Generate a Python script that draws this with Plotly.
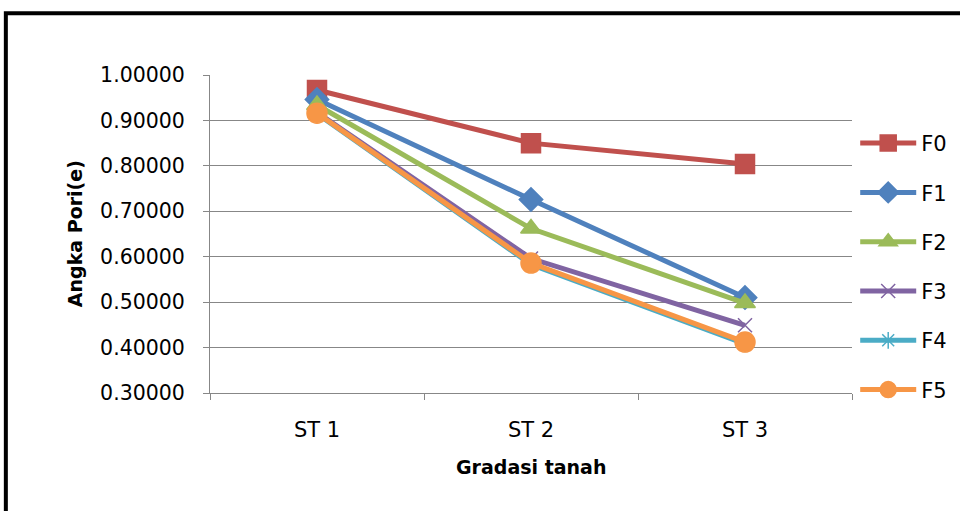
import plotly.graph_objects as go

categories = ["ST 1", "ST 2", "ST 3"]
series_names = ["F0", "F1", "F2", "F3", "F4", "F5"]
F0 = [0.967, 0.850, 0.804]
F1 = [0.946, 0.726, 0.510]
F2 = [0.934, 0.662, 0.498]
F3 = [0.918, 0.596, 0.449]
F4 = [0.915, 0.583, 0.408]
F5 = [0.916, 0.586, 0.412]
y_ticks = [0.3, 0.4, 0.5, 0.6, 0.7, 0.8, 0.9, 1.0]

values = [F0, F1, F2, F3, F4, F5]
colors = ["#C0504D", "#4F81BD", "#9BBB59", "#8064A2", "#4BACC6", "#F79646"]
symbols = ["square", "diamond", "triangle-up", "x-thin-open", "asterisk-open", "circle"]
sizes = [19, 18, 18, 14, 14, 20]

fig = go.Figure()
for i, (name, vals) in enumerate(zip(series_names, values)):
    fig.add_trace(go.Scatter(
        x=categories, y=vals, name=name, mode="lines+markers",
        legendgroup=name,
        line=dict(color=colors[i], width=5),
        marker=dict(symbol=symbols[i], size=sizes[i], color=colors[i],
                    line=dict(color=colors[i], width=1.5)),
    ))

font_family = "'DejaVu Sans', sans-serif"
fig.update_layout(
    width=960, height=511,
    margin=dict(l=210, r=108, t=75, b=118, autoexpand=False),
    paper_bgcolor="white", plot_bgcolor="white",
    font=dict(family=font_family, size=20, color="black"),
    showlegend=True,
    legend=dict(x=1.005, y=0.398, xanchor="left", yanchor="middle",
                tracegroupgap=19, itemwidth=56,
                font=dict(size=21, family=font_family, color="black"),
                bgcolor="rgba(0,0,0,0)"),
    xaxis=dict(type="category", tickson="boundaries", ticks="outside", ticklen=6,
               tickcolor="#878787", showline=True, linecolor="#878787", linewidth=1,
               showgrid=False, range=[-0.5, 2.5], ticklabelstandoff=18,
               tickfont=dict(size=21, family=font_family)),
    yaxis=dict(range=[0.3, 1.0], tickvals=y_ticks, tickformat=".5f",
               ticks="outside", ticklen=6, tickcolor="#878787",
               showline=True, linecolor="#878787", linewidth=1,
               showgrid=True, gridcolor="#878787", gridwidth=1,
               zeroline=False, ticklabelstandoff=14,
               tickfont=dict(size=20.5, family=font_family)),
    annotations=[
        dict(text="<b>Gradasi tanah</b>", xref="paper", yref="paper",
             x=0.5, y=-0.233, xanchor="center", yanchor="middle", showarrow=False,
             font=dict(size=19, family=font_family)),
        dict(text="<b>Angka Pori(e)</b>", xref="paper", yref="paper",
             x=-0.21, y=0.5, xanchor="center", yanchor="middle", showarrow=False,
             textangle=-90, font=dict(size=19, family=font_family)),
    ],
    shapes=[dict(type="rect", xref="paper", yref="paper",
                 x0=-0.318, y0=-2, x1=3, y1=1.194,
                 line=dict(color="black", width=4), fillcolor="rgba(0,0,0,0)", layer="above")],
)

fig.write_html("out.html", config={"displayModeBar": False},
               post_script="document.body.style.margin='0';")
